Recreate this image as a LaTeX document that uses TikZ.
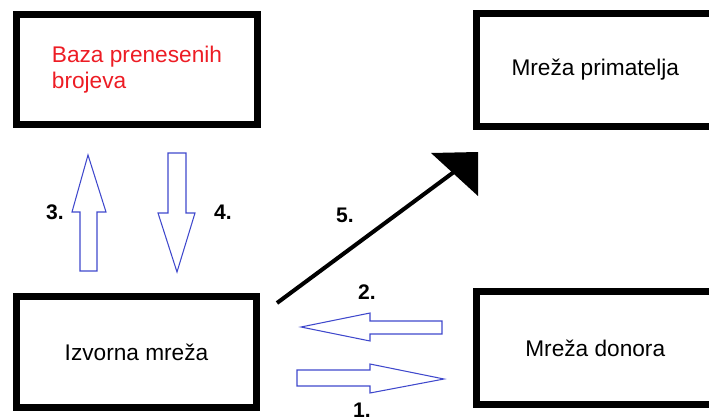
\documentclass[tikz,border=0pt]{standalone}
\usepackage{fontspec}
\setmainfont{Liberation Sans}
\usepackage{tikz}

\definecolor{paintred}{RGB}{237,28,36}
\definecolor{paintblue}{RGB}{63,72,204}

\tikzset{
  box/.style={draw, line width=4pt, inner sep=0pt, minimum width=4.8cm, minimum height=2.22cm,
    font=\fontsize{12.9}{14.8}\selectfont},
  hollow/.style={draw=paintblue, line width=0.6pt},
  num/.style={font=\bfseries\fontsize{12}{14}\selectfont},
}

\begin{document}
\begin{tikzpicture}[x=0.02cm, y=-0.02cm]
\useasboundingbox (0,0) rectangle (709,419);
% boxes
\node(baza)[box, minimum width=4.82cm, minimum height=2.2cm, text=paintred, align=left] at (137,69.5) {Baza prenesenih\\brojeva};
\node(prim)[box, minimum width=4.75cm, minimum height=2.26cm] at (595.25,70) {Mreža primatelja};
\node(izv)[box] at (136.5,352) {Izvorna mreža};
\node(don)[box, minimum width=4.75cm, minimum height=2.26cm] at (595.25,348) {Mreža donora};
% block arrows
\draw[hollow] (80,271) -- (80,212) -- (72,212) -- (88,155) -- (106,212) -- (97,212) -- (97,271) -- cycle;
\draw[hollow] (168,153) -- (168,213) -- (158,213) -- (177,272) -- (195,213) -- (186,213) -- (186,153) -- cycle;
\draw[hollow] (442,321) -- (370,321) -- (370,313) -- (301,327) -- (370,341) -- (370,334) -- (442,334) -- cycle;
\draw[hollow] (297,370) -- (370,370) -- (370,364) -- (444,379) -- (370,393) -- (370,386) -- (297,386) -- cycle;
% arrow 5
\coordinate(s) at (277,303);
\coordinate(t) at (462,166);
\draw[line width=2.3pt] (s) -- (t);
\fill (431,153) -- (478,152) -- (478,196) -- cycle;
% labels
\node(n1)[num] at (362,410) {1.};
\node(n2)[num] at (367,292) {2.};
\node(n3)[num] at (55,212) {3.};
\node(n4)[num] at (223,212) {4.};
\node(n5)[num] at (345,215) {5.};
\end{tikzpicture}
\end{document}
